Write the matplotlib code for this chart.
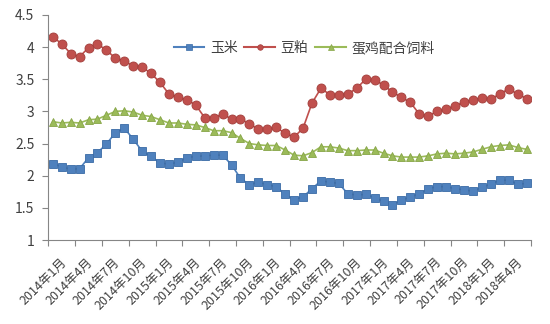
import matplotlib
matplotlib.use('Agg')
import matplotlib.pyplot as plt
from matplotlib.lines import Line2D
from matplotlib.transforms import ScaledTranslation

plt.rcParams['font.family'] = ['Noto Sans CJK SC', 'DejaVu Sans']

# months 2014-01 .. 2018-06
months = ['%d年%d月' % (2014 + i // 12, i % 12 + 1) for i in range(54)]

corn = [2.19, 2.14, 2.10, 2.11, 2.28, 2.36, 2.49, 2.67, 2.74, 2.57,
        2.38, 2.30, 2.20, 2.18, 2.21, 2.28, 2.30, 2.31, 2.32, 2.32,
        2.17, 1.96, 1.86, 1.90, 1.86, 1.83, 1.71, 1.63, 1.67, 1.80,
        1.92, 1.90, 1.88, 1.72, 1.70, 1.71, 1.66, 1.60, 1.55, 1.62,
        1.67, 1.72, 1.80, 1.83, 1.83, 1.80, 1.78, 1.76, 1.82, 1.87,
        1.93, 1.93, 1.87, 1.88]
soymeal = [4.16, 4.05, 3.90, 3.85, 3.99, 4.05, 3.95, 3.83, 3.78, 3.71,
           3.69, 3.59, 3.45, 3.27, 3.22, 3.18, 3.10, 2.90, 2.90, 2.96,
           2.88, 2.88, 2.81, 2.72, 2.72, 2.75, 2.66, 2.60, 2.74, 3.13,
           3.36, 3.26, 3.26, 3.27, 3.36, 3.50, 3.49, 3.41, 3.30, 3.22,
           3.14, 2.96, 2.93, 3.00, 3.03, 3.09, 3.14, 3.18, 3.21, 3.19,
           3.27, 3.35, 3.27, 3.20]
feed = [2.84, 2.82, 2.83, 2.82, 2.87, 2.88, 2.94, 3.00, 3.01, 2.99,
        2.94, 2.92, 2.87, 2.82, 2.82, 2.80, 2.79, 2.75, 2.70, 2.70,
        2.67, 2.58, 2.50, 2.48, 2.47, 2.47, 2.40, 2.32, 2.31, 2.36,
        2.45, 2.45, 2.43, 2.39, 2.39, 2.40, 2.40, 2.35, 2.31, 2.29,
        2.29, 2.29, 2.31, 2.34, 2.35, 2.34, 2.35, 2.37, 2.41, 2.45,
        2.47, 2.48, 2.44, 2.41]

names = ['玉米', '豆粕', '蛋鸡配合饲料']
colors = ['#4F81BD', '#C0504D', '#9BBB59']
edges = ['#3A6BA6', '#A23E3B', '#86A547']
markers = ['s', 'o', '^']
sizes = [5.5, 6.5, 6]

fig = plt.figure(figsize=(5.5, 3.24), dpi=100)
ax = fig.add_axes([0.0878, 0.259, 0.8777, 0.695])

x = list(range(len(months)))
handles = []
for ys, n, c, e, m, s in zip([corn, soymeal, feed], names, colors, edges, markers, sizes):
    ax.plot(x, ys, color=c, lw=1.2, marker=m, ms=s, mfc=c, mec=e, mew=0.6)
    handles.append(Line2D([], [], color=c, lw=1.5, marker=m, ms=4, mfc=c, mec=e, mew=0.5))

ax.set_xlim(-0.5, len(months) - 0.5)
ax.set_ylim(1, 4.5)
ax.set_yticks([1, 1.5, 2, 2.5, 3, 3.5, 4, 4.5])
ax.set_yticklabels(['1', '1.5', '2', '2.5', '3', '3.5', '4', '4.5'])

ax.set_xticks(x[::3])
ax.set_xticklabels(months[::3], rotation=45, ha='right', va='top', rotation_mode='anchor')
ax.set_xticks([i - 0.5 for i in range(0, len(months) + 1, 3)], minor=True)
ax.tick_params(axis='x', which='major', length=0, pad=11, labelsize=9, labelcolor='#404040')
ax.tick_params(axis='x', which='minor', length=4, width=0.8, color='#868686')
ax.tick_params(axis='y', length=4, width=0.8, color='#868686', labelsize=10, labelcolor='#404040', pad=6)
off = ScaledTranslation(7 / 100, 0, fig.dpi_scale_trans)
for lab in ax.get_xticklabels():
    lab.set_transform(lab.get_transform() + off)

for side in ['top', 'right']:
    ax.spines[side].set_visible(False)
for side in ['left', 'bottom']:
    ax.spines[side].set_color('#868686')
    ax.spines[side].set_linewidth(0.8)

ax.legend(handles, names, loc='center', bbox_to_anchor=(0.53, 0.853), ncol=3, frameon=False,
          fontsize=10, handlelength=2.2, handletextpad=0.4, columnspacing=0.5, labelcolor='#404040')

fig.savefig('out.png', dpi=100)
